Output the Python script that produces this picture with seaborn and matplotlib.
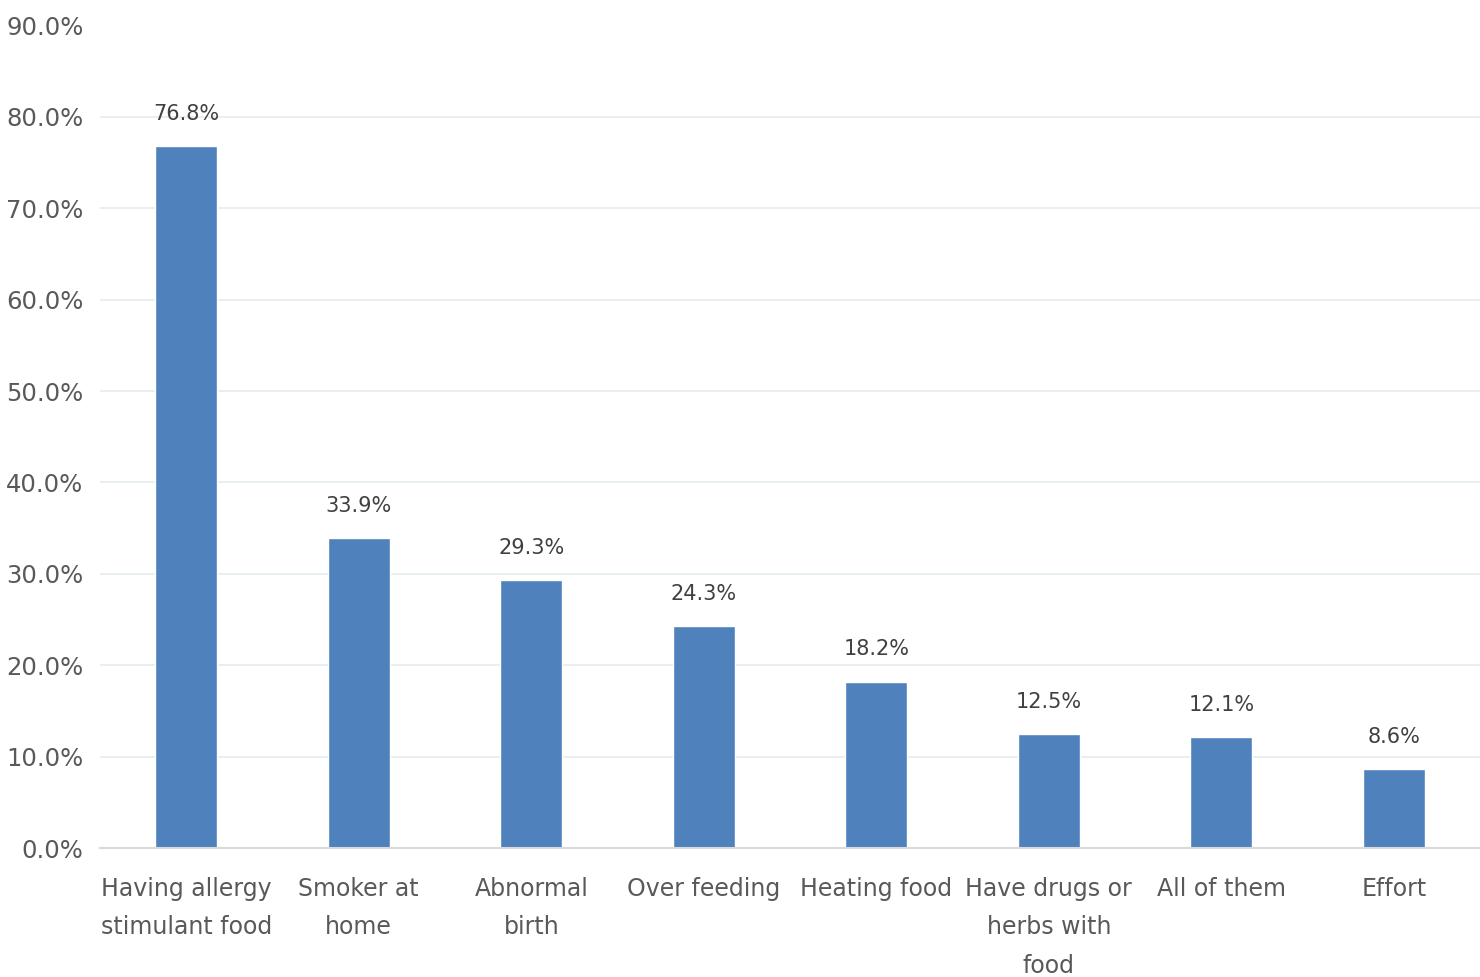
import matplotlib
matplotlib.use("Agg")
import matplotlib.pyplot as plt
import seaborn as sns
import pandas as pd

categories = ["Having allergy\nstimulant food", "Smoker at\nhome", "Abnormal\nbirth",
              "Over feeding", "Heating food", "Have drugs or\nherbs with\nfood",
              "All of them", "Effort"]
values = [76.8, 33.9, 29.3, 24.3, 18.2, 12.5, 12.1, 8.6]
yticks = [0, 10, 20, 30, 40, 50, 60, 70, 80, 90]

sns.set_theme(style="white")
plt.rcParams['font.family'] = ['DejaVu Sans']

df = pd.DataFrame({"cat": categories, "val": values})
fig = plt.figure(figsize=(14.8, 9.77), dpi=100)
ax = fig.add_axes([0.0676, 0.132, 0.9324, 0.842])
sns.barplot(data=df, x="cat", y="val", color="#4F81BD", saturation=1, width=0.36, ax=ax)

ax.set_ylim(0, 90)
ax.set_yticks(yticks)
ax.set_yticklabels([f"{t:.1f}%" for t in yticks])
ax.yaxis.grid(True, color="#E3ECF1", linewidth=1.2)
ax.get_ygridlines()[-1].set_visible(False)
ax.set_axisbelow(True)
for s in ["top", "right", "left"]:
    ax.spines[s].set_visible(False)
ax.spines["bottom"].set_color("#D9D9D9")
ax.spines["bottom"].set_linewidth(1.5)
ax.set_xlabel("")
ax.set_ylabel("")
ax.tick_params(axis="y", length=0, labelsize=17.5, colors="#595959", pad=12)
ax.tick_params(axis="x", length=0, labelsize=17, colors="#595959", pad=21)
for lbl in ax.get_xticklabels():
    lbl.set_linespacing(1.75)

for container in ax.containers:
    ax.bar_label(container, labels=[f"{v:.1f}%" for v in values], padding=16,
                 fontsize=15, color="#404040")

fig.savefig("out.png", dpi=100)
